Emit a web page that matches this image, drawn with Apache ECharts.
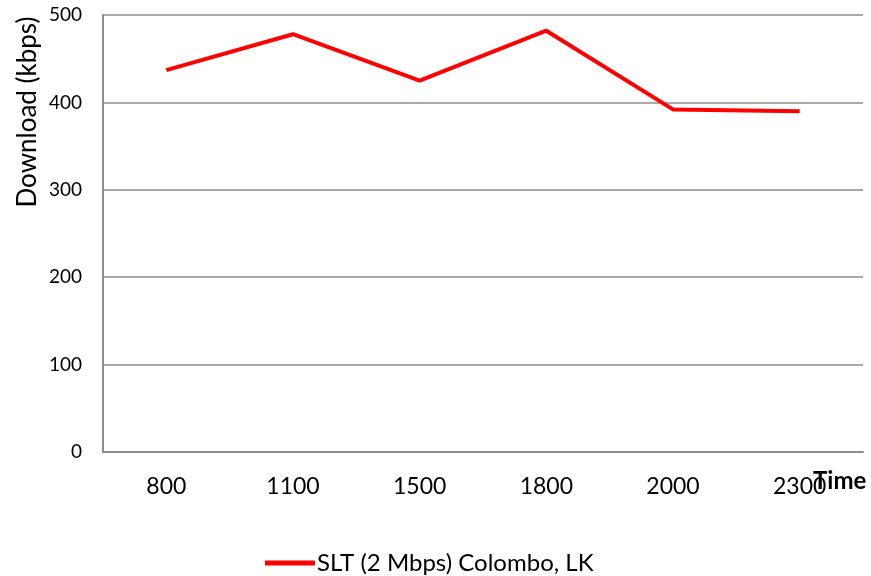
<!DOCTYPE html>
<html><head><meta charset="utf-8">
<script src="https://cdn.jsdelivr.net/npm/echarts@6/dist/echarts.min.js"></script>
<style>html,body{margin:0;padding:0;background:#fff}#c{width:871px;height:576px}</style>
</head><body><div id="c"></div>
<script>
const categories = ['800','1100','1500','1800','2000','2300'];
const seriesName = 'SLT (2 Mbps) Colombo, LK';
const values = [437, 478, 425, 482, 392, 390];
const yTicks = {min: 0, max: 500, interval: 100};
const yTitle = 'Download (kbps)';
const xTitle = 'Time';

const FONT = 'Lato, "Open Sans", sans-serif';
const chart = echarts.init(document.getElementById('c'), null, {renderer: 'canvas'});
chart.setOption({
  animation: false,
  backgroundColor: '#fff',
  grid: {left: 103, right: 8, top: 15, bottom: 124, containLabel: false},
  xAxis: {
    type: 'category', data: categories, boundaryGap: true,
    axisLine: {lineStyle: {color: '#8c8c8c', width: 2}},
    axisTick: {show: false},
    axisLabel: {color: '#000', fontSize: 23, fontFamily: FONT, margin: 23}
  },
  yAxis: {
    type: 'value', min: yTicks.min, max: yTicks.max, interval: yTicks.interval,
    axisLine: {show: true, lineStyle: {color: '#8c8c8c', width: 2}},
    axisTick: {show: false},
    splitLine: {lineStyle: {color: '#8c8c8c', width: 1.5}},
    axisLabel: {color: '#000', fontSize: 19, fontFamily: FONT, margin: 21}
  },
  legend: {
    top: 546, left: 260,
    itemWidth: 50, itemHeight: 5, itemGap: 10,
    icon: 'rect',
    textStyle: {color: '#000', fontSize: 24, fontFamily: FONT, padding: [0, 0, 0, -3]},
    data: [seriesName]
  },
  graphic: [
    {type: 'text', x: 28, y: 112, rotation: Math.PI/2,
     style: {text: yTitle, fill: '#000', font: '26px ' + FONT, align: 'center', verticalAlign: 'middle'}},
    {type: 'text', x: 813, y: 469,
     style: {text: xTitle, fill: '#000', font: 'bold 24px ' + FONT}}
  ],
  series: [{
    name: seriesName, type: 'line', data: values,
    showSymbol: false, symbol: 'none',
    lineStyle: {color: '#ff0000', width: 4},
    itemStyle: {color: '#ff0000'}
  }]
});
</script></body></html>
